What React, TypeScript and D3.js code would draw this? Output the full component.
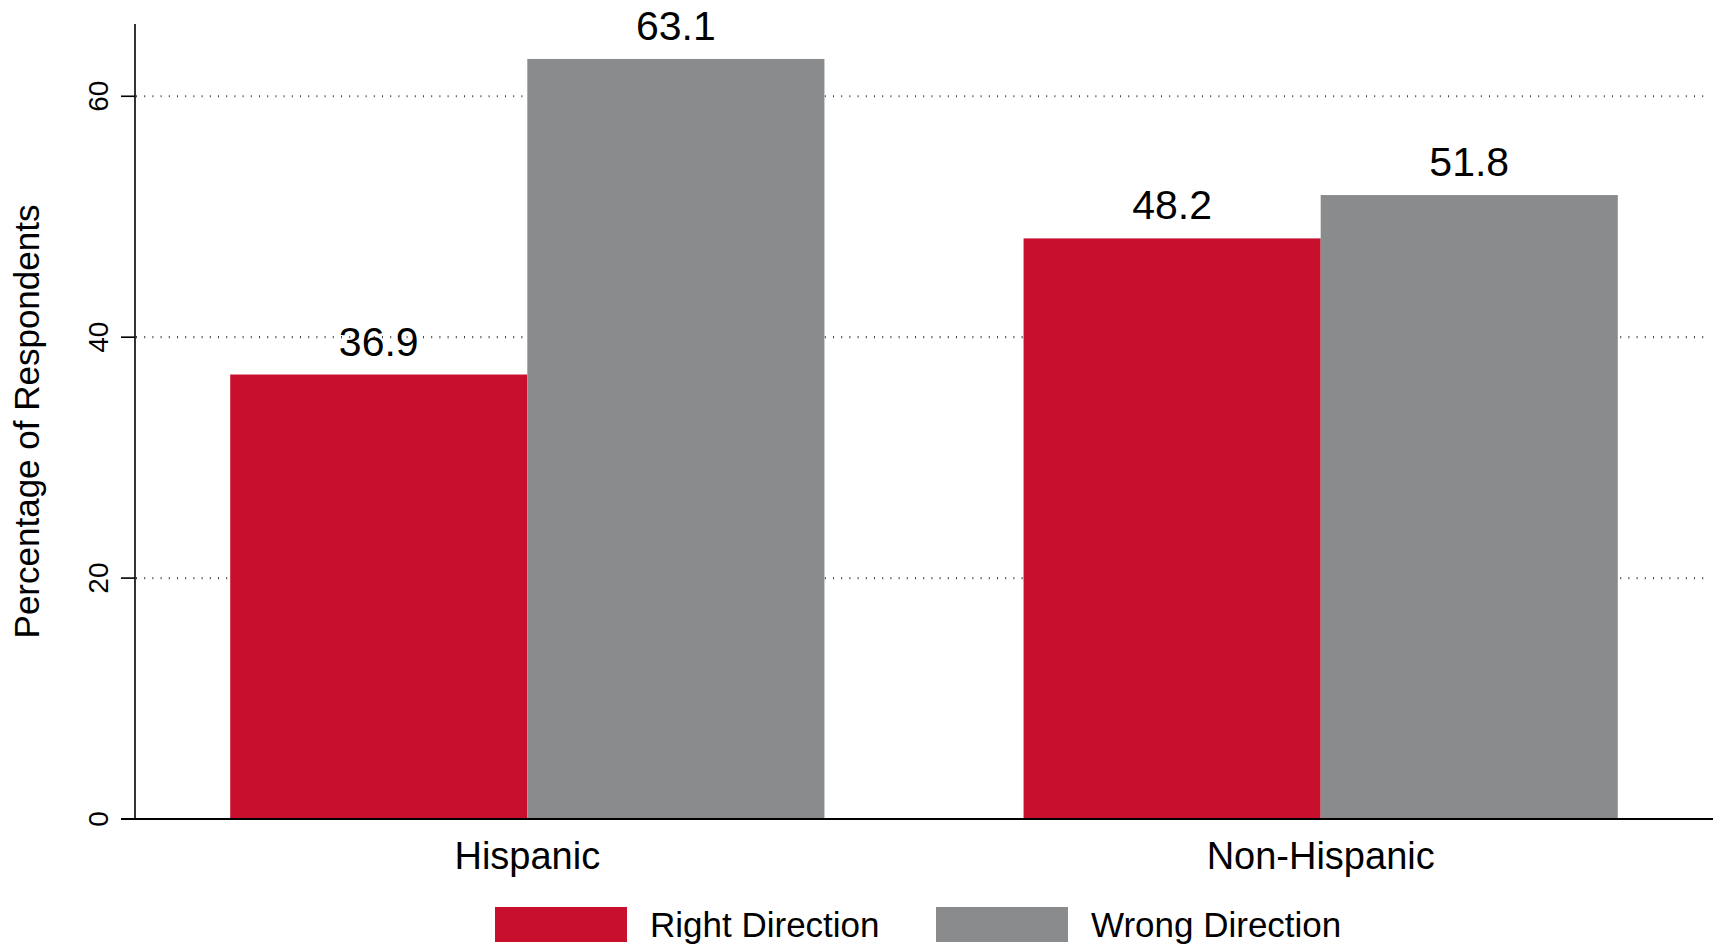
import * as d3 from 'd3';

const groups = ['Hispanic', 'Non-Hispanic'];
const seriesNames = ['Right Direction', 'Wrong Direction'];
const rightValues = [36.9, 48.2];
const wrongValues = [63.1, 51.8];
const yTicks = [0, 20, 40, 60];
const colors = ['#c8102e', '#898b8d'];

const W = 1719;
const H = 946;
const LEFT = 135;
const RIGHT = 1713;
const TOP = 24;
const BOTTOM = 819;
const FONT = '"Liberation Sans", Arial, Helvetica, sans-serif';

export default function App() {
    const y = d3.scaleLinear().domain([0, 66]).range([BOTTOM, TOP]);
    const x0 = d3.scaleBand<string>()
        .domain(groups)
        .range([LEFT, RIGHT])
        .paddingInner(0.251)
        .paddingOuter(0.12);
    const x1 = d3.scaleBand<string>()
        .domain(seriesNames)
        .range([0, x0.bandwidth()])
        .padding(0);

    const seriesValues = [rightValues, wrongValues];

    return (
        <svg width={W} height={H} style={{ position: 'absolute', left: 0, top: 0, background: '#fff' }}
            fontFamily={FONT}>
            {/* dotted gridlines */}
            {yTicks.map(t => (
                <line key={'g' + t} x1={LEFT + 1} x2={1707} y1={y(t)} y2={y(t)}
                    stroke="#444" strokeWidth={2.2} strokeDasharray="1,7.2" />
            ))}

            {/* bars */}
            {groups.map((g, gi) => (
                <g key={g} transform={`translate(${x0(g)},0)`}>
                    {seriesNames.map((s, si) => {
                        const v = seriesValues[si][gi];
                        const bx = x1(s)!;
                        return (
                            <g key={s}>
                                <rect x={bx} y={y(v)} width={x1.bandwidth()} height={BOTTOM - y(v)}
                                    fill={colors[si]} />
                                <text x={bx + x1.bandwidth() / 2} y={y(v) - 19} textAnchor="middle"
                                    fontSize={41} fill="#000">{v.toFixed(1)}</text>
                            </g>
                        );
                    })}
                </g>
            ))}

            {/* y axis */}
            <line x1={LEFT} x2={LEFT} y1={TOP} y2={BOTTOM} stroke="#000" strokeWidth={1.6} />
            {yTicks.map(t => (
                <g key={'t' + t}>
                    <line x1={121} x2={LEFT} y1={y(t)} y2={y(t)} stroke="#000" strokeWidth={1.6} />
                    <text transform={`translate(108,${y(t)}) rotate(-90)`} textAnchor="middle"
                        fontSize={28} fill="#000">{t}</text>
                </g>
            ))}
            <text transform={`translate(39,${(TOP + BOTTOM) / 2}) rotate(-90)`} textAnchor="middle"
                fontSize={35} fill="#000">Percentage of Respondents</text>

            {/* x axis */}
            <line x1={121} x2={RIGHT} y1={BOTTOM} y2={BOTTOM} stroke="#000" strokeWidth={1.8} />
            {groups.map(g => (
                <text key={'x' + g} x={x0(g)! + x0.bandwidth() / 2} y={869} textAnchor="middle"
                    fontSize={38} fill="#000">{g}</text>
            ))}

            {/* legend */}
            {seriesNames.map((s, i) => {
                const lx = [495, 936][i];
                return (
                    <g key={'l' + s}>
                        <rect x={lx} y={907} width={132} height={35} fill={colors[i]} />
                        <text x={lx + 155} y={937} fontSize={35} fill="#000">{s}</text>
                    </g>
                );
            })}
        </svg>
    );
}
